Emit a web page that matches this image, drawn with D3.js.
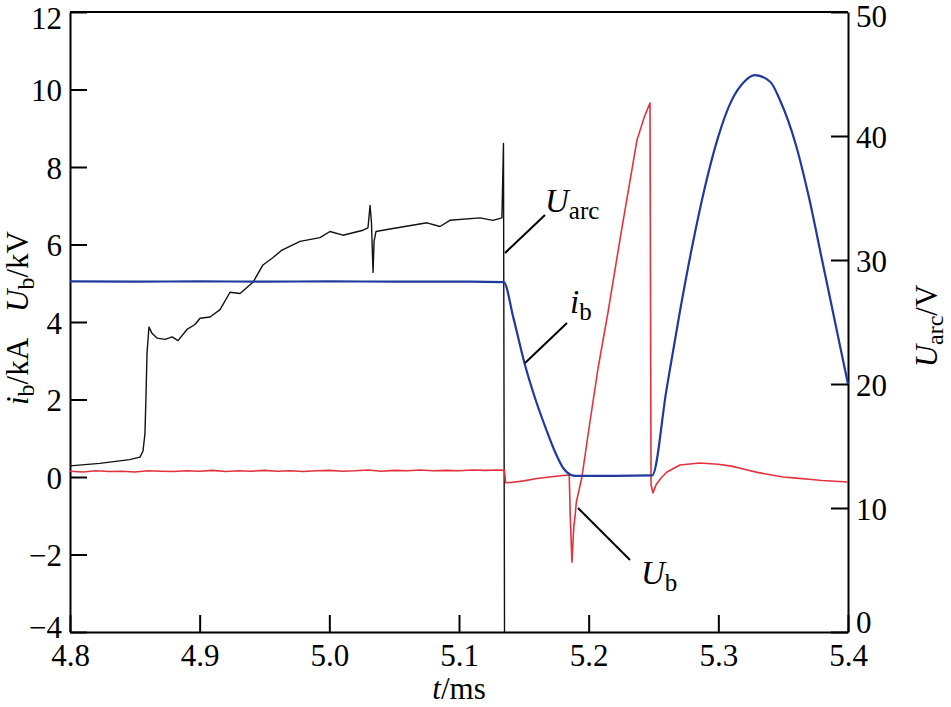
<!DOCTYPE html>
<html>
<head>
<meta charset="utf-8">
<script src="https://cdn.jsdelivr.net/npm/d3@7/dist/d3.min.js"></script>
<style>
  body { margin: 0; background: #fff; }
  svg text { font-family: "Liberation Serif", "Times New Roman", Times, "DejaVu Serif", serif; }
</style>
</head>
<body>
<svg id="chart" width="951" height="707"></svg>
<script>
// ---------- data ----------
const xTicks = [4.8, 4.9, 5.0, 5.1, 5.2, 5.3, 5.4];
const leftTicks = [-4, -2, 0, 2, 4, 6, 8, 10, 12];
const rightTicks = [0, 10, 20, 30, 40, 50];

// i_b (kA), left axis
const ibT = [4.80, 4.85, 4.90, 4.95, 5.00, 5.05, 5.10, 5.1345, 5.1420, 5.1509, 5.159, 5.167, 5.174, 5.180, 5.186, 5.190, 5.220, 5.249,
             5.260, 5.270, 5.280, 5.290, 5.300, 5.310, 5.320, 5.328, 5.340, 5.3475, 5.360, 5.370, 5.380, 5.390, 5.400];
const ibV = [5.05, 5.04, 5.05, 5.04, 5.05, 5.04, 5.04, 5.03, 4.10, 2.89, 2.00, 1.25, 0.65, 0.25, 0.06, 0.03, 0.03, 0.04,
             2.25, 4.20, 5.98, 7.53, 8.79, 9.70, 10.20, 10.37, 10.20, 9.73, 8.55, 7.20, 5.60, 4.00, 2.40];

// U_b (kV), left axis
const ubT = [4.80, 4.81, 4.82, 4.83, 4.84, 4.85, 4.86, 4.87, 4.88, 4.89, 4.90, 4.91, 4.92, 4.93, 4.94, 4.95, 4.96, 4.97, 4.98, 4.99,
             5.00, 5.01, 5.02, 5.03, 5.04, 5.05, 5.06, 5.07, 5.08, 5.09, 5.10, 5.11, 5.12, 5.13, 5.135, 5.136, 5.14, 5.15, 5.16, 5.17,
             5.18, 5.185, 5.1858, 5.1871, 5.1885, 5.1894, 5.1905, 5.1948, 5.2000, 5.2072, 5.2149, 5.2250, 5.2373, 5.2430, 5.2473,
             5.2481, 5.2496, 5.2520, 5.2560, 5.2604, 5.2704, 5.2858, 5.30, 5.31, 5.32, 5.33, 5.34, 5.35, 5.36, 5.37, 5.38, 5.39, 5.40];
const ubV = [0.15, 0.13, 0.16, 0.14, 0.15, 0.13, 0.16, 0.15, 0.14, 0.16, 0.15, 0.17, 0.14, 0.16, 0.15, 0.17, 0.15, 0.16, 0.14, 0.16,
             0.17, 0.15, 0.16, 0.18, 0.15, 0.17, 0.16, 0.18, 0.16, 0.17, 0.16, 0.18, 0.17, 0.18, 0.17, -0.15, -0.14, -0.10, -0.04, 0.00,
             0.04, 0.05, -1.00, -2.20, -1.30, -1.05, -0.65, 0.00, 1.20, 2.80, 4.25, 6.30, 8.70, 9.30, 9.65,
             -0.20, -0.41, -0.20, -0.02, 0.13, 0.31, 0.36, 0.33, 0.28, 0.20, 0.12, 0.06, 0.00, -0.03, -0.06, -0.09, -0.11, -0.13];

// U_arc (V), right axis
const uarcT = [4.800, 4.823, 4.846, 4.854, 4.8563, 4.8578, 4.8586, 4.8594, 4.8609, 4.8632, 4.8671, 4.8733, 4.8787, 4.8833, 4.8902,
               4.8964, 4.9003, 4.908, 4.9157, 4.9234, 4.9311, 4.9411, 4.9488, 4.9566, 4.9635, 4.9774, 4.9928, 5.0005, 5.0105, 5.026,
               5.0298, 5.0314, 5.0325, 5.0337, 5.0345, 5.036, 5.0468, 5.0753, 5.0853, 5.093, 5.1162, 5.1262, 5.1331, 5.1343, 5.1351];
const uarcV = [13.4, 13.6, 13.9, 14.1, 14.6, 16.0, 19.0, 22.5, 24.6, 24.1, 23.7, 23.6, 23.8, 23.5, 24.4,
               24.8, 25.3, 25.4, 26.0, 27.4, 27.3, 28.2, 29.6, 30.2, 30.8, 31.5, 31.8, 32.3, 32.0, 32.4,
               32.6, 34.4, 33.0, 29.0, 31.5, 32.3, 32.5, 33.0, 32.7, 33.2, 33.4, 33.2, 33.4, 39.4, 0.0];

// ---------- chart ----------
const SERIF = "'Liberation Serif', 'Times New Roman', Times, 'DejaVu Serif', serif";
const svg = d3.select("#chart");
const L = 70, R = 848, T = 12, B = 632;
const x = d3.scaleLinear().domain([4.8, 5.4]).range([L, R]);
const yL = d3.scaleLinear().domain([-4, 12]).range([B, T]);
const yR = d3.scaleLinear().domain([0, 50]).range([B, T]);
const FS = 31;

function styleAxis(g) {
  g.attr("font-family", SERIF).attr("font-size", FS);
  g.select(".domain").attr("stroke", "#000").attr("stroke-width", 2);
  g.selectAll(".tick line").attr("stroke", "#000").attr("stroke-width", 2);
  g.selectAll(".tick text").attr("fill", "#000").attr("font-size", FS).attr("font-family", SERIF);
}

// x axis
const gx = svg.append("g").attr("transform", `translate(0,${B})`)
  .call(d3.axisBottom(x).tickValues(xTicks).tickSize(-17).tickSizeOuter(0).tickFormat(d3.format(".1f")));
styleAxis(gx);
gx.selectAll(".tick text").attr("y", 34).attr("dy", 0);

// left axis
const gl = svg.append("g").attr("transform", `translate(${L},0)`)
  .call(d3.axisLeft(yL).tickValues(leftTicks).tickSize(-17).tickSizeOuter(0)
    .tickFormat(d => d < 0 ? "\u2212" + Math.abs(d) : d));
styleAxis(gl);
gl.selectAll(".tick text").attr("x", -8).attr("dy", "0.36em");
gl.selectAll(".tick").filter(d => d === 12).select("text").attr("dy", "0.52em");
gl.selectAll(".tick").filter(d => d === -4).select("text").attr("dy", "0.18em");

// right axis
const gr = svg.append("g").attr("transform", `translate(${R},0)`)
  .call(d3.axisRight(yR).tickValues(rightTicks).tickSize(-17).tickSizeOuter(0));
styleAxis(gr);
gr.selectAll(".tick text").attr("x", 8).attr("dy", "0.36em");
gr.selectAll(".tick").filter(d => d === 50).select("text").attr("dy", "0.46em");
gr.selectAll(".tick").filter(d => d === 0).select("text").attr("dy", "0.02em");

// top frame
svg.append("line").attr("x1", L).attr("x2", R).attr("y1", T).attr("y2", T)
  .attr("stroke", "#000").attr("stroke-width", 2);

// lines
const lineL = d3.line().x(d => x(d[0])).y(d => yL(d[1]));
const lineR = d3.line().x(d => x(d[0])).y(d => yR(d[1]));
const lineSmooth = d3.line().x(d => x(d[0])).y(d => yL(d[1])).curve(d3.curveMonotoneX);

svg.append("path").datum(d3.zip(uarcT, uarcV)).attr("d", lineR)
  .attr("fill", "none").attr("stroke", "#111").attr("stroke-width", 1.4).attr("stroke-linejoin", "round");
svg.append("path").datum(d3.zip(ubT, ubV)).attr("d", lineL)
  .attr("fill", "none").attr("stroke", "#e2323e").attr("stroke-width", 1.6).attr("stroke-linejoin", "round");
svg.append("path").datum(d3.zip(ibT, ibV)).attr("d", lineSmooth)
  .attr("fill", "none").attr("stroke", "#1f3a9e").attr("stroke-width", 2.2).attr("stroke-linejoin", "round");

// annotations
function leader(x1, y1, x2, y2) {
  svg.append("line").attr("x1", x1).attr("y1", y1).attr("x2", x2).attr("y2", y2)
    .attr("stroke", "#000").attr("stroke-width", 2);
}
function label(xp, yp, main, sub, size, subSize) {
  const t = svg.append("text").attr("x", xp).attr("y", yp).attr("font-size", size)
    .attr("font-family", SERIF).attr("fill", "#000");
  t.append("tspan").attr("font-style", "italic").text(main);
  t.append("tspan").attr("font-size", subSize).attr("dy", 7).text(sub);
  return t;
}
leader(505, 253, 545, 215);
label(545, 212, "U", "arc", 33, 25);
leader(525, 363, 567, 323);
label(570, 313, "i", "b", 33, 25);
leader(578, 508, 630, 560);
label(641, 584, "U", "b", 33, 25);

// x axis title
const xt = svg.append("text").attr("x", (L + R) / 2).attr("y", 699).attr("text-anchor", "middle")
  .attr("font-size", FS).attr("font-family", SERIF).attr("fill", "#000");
xt.append("tspan").attr("font-style", "italic").text("t");
xt.append("tspan").text("/ms");

// left title (rotated)
const lt = svg.append("text").attr("transform", "translate(28,318) rotate(-90)")
  .attr("text-anchor", "middle").attr("font-size", FS).attr("font-family", SERIF).attr("fill", "#000");
lt.append("tspan").attr("font-style", "italic").text("i");
lt.append("tspan").attr("font-size", 24).attr("dy", 6).text("b");
lt.append("tspan").attr("dy", -6).text("/kA");
lt.append("tspan").attr("dx", 26).attr("font-style", "italic").text("U");
lt.append("tspan").attr("font-size", 24).attr("dy", 6).text("b");
lt.append("tspan").attr("dy", -6).text("/kV");

// right title (rotated)
const rt = svg.append("text").attr("transform", "translate(937,326) rotate(-90)")
  .attr("text-anchor", "middle").attr("font-size", FS).attr("font-family", SERIF).attr("fill", "#000");
rt.append("tspan").attr("font-style", "italic").text("U");
rt.append("tspan").attr("font-size", 24).attr("dy", 6).text("arc");
rt.append("tspan").attr("dy", -6).text("/V");
</script>
</body>
</html>
